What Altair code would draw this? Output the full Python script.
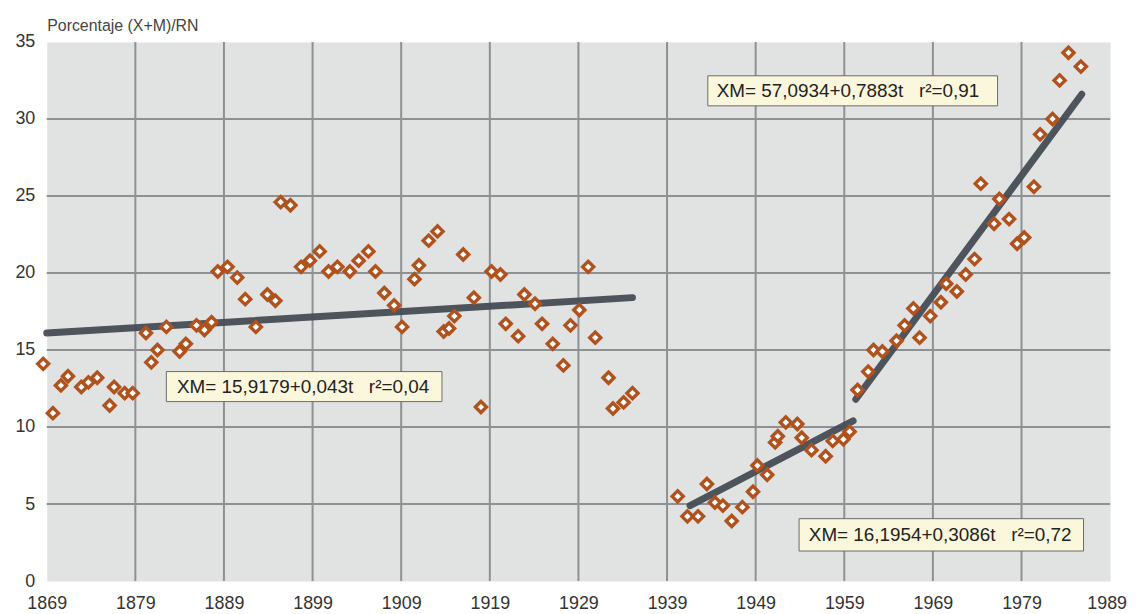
import altair as alt
import pandas as pd

# ---- data ----
left_years = [1868.6, 1869.7, 1870.6, 1871.4, 1872.9, 1873.7, 1874.7, 1876.1, 1876.6, 1877.8,
              1878.7, 1880.2, 1880.8, 1881.5, 1882.5, 1884.0, 1884.7, 1885.9, 1886.8, 1887.6,
              1888.3, 1889.4, 1890.5, 1891.4, 1892.6, 1893.9, 1894.8, 1895.4, 1896.5, 1897.7,
              1898.7, 1899.8, 1900.8, 1901.8, 1903.2, 1904.2, 1905.3, 1906.1, 1907.1, 1908.2,
              1909.1, 1910.5, 1911.0, 1912.1, 1913.1, 1913.8, 1914.4, 1915.0, 1916.0, 1917.2,
              1918.0, 1919.2, 1920.2, 1920.8, 1922.2, 1922.9, 1924.1, 1924.9, 1926.1, 1927.3,
              1928.1, 1929.1, 1930.1, 1930.9, 1932.4, 1932.9, 1934.1, 1935.1]
left_values = [14.1, 10.9, 12.7, 13.3, 12.6, 12.9, 13.2, 11.4, 12.6, 12.2,
               12.2, 16.1, 14.2, 15.0, 16.5, 14.9, 15.4, 16.6, 16.3, 16.8,
               20.1, 20.4, 19.7, 18.3, 16.5, 18.6, 18.2, 24.6, 24.4, 20.4,
               20.8, 21.4, 20.1, 20.4, 20.1, 20.8, 21.4, 20.1, 18.7, 17.9,
               16.5, 19.6, 20.5, 22.1, 22.7, 16.2, 16.4, 17.2, 21.2, 18.4,
               11.3, 20.1, 19.9, 16.7, 15.9, 18.6, 18.0, 16.7, 15.4, 14.0,
               16.6, 17.6, 20.4, 15.8, 13.2, 11.2, 11.6, 12.2]

mid_years = [1940.2, 1941.3, 1942.5, 1943.5, 1944.4, 1945.3, 1946.3, 1947.5, 1948.7, 1949.2,
             1950.3, 1951.2, 1951.5, 1952.4, 1953.7, 1954.2, 1955.3, 1956.9, 1957.7, 1958.9,
             1959.6]
mid_values = [5.5, 4.2, 4.2, 6.3, 5.1, 4.9, 3.9, 4.8, 5.8, 7.5,
              6.9, 9.0, 9.4, 10.3, 10.2, 9.3, 8.5, 8.1, 9.1, 9.2,
              9.7]

right_years = [1960.5, 1961.7, 1962.3, 1963.3, 1964.9, 1965.8, 1966.8, 1967.5, 1968.7, 1969.9,
               1970.5, 1971.7, 1972.7, 1973.7, 1974.4, 1975.9, 1976.5, 1977.6, 1978.5, 1979.3,
               1980.4, 1981.1, 1982.5, 1983.3, 1984.3, 1985.7]
right_values = [12.4, 13.6, 15.0, 14.9, 15.6, 16.6, 17.7, 15.8, 17.2, 18.1,
                19.3, 18.8, 19.9, 20.9, 25.8, 23.2, 24.8, 23.5, 21.9, 22.3,
                25.6, 29.0, 30.0, 32.5, 34.3, 33.4]

# fitted trend segments (end points)
fit_names = ["left", "left", "mid", "mid", "right", "right"]
fit_years = [1869.0, 1935.1, 1941.6, 1960.0, 1960.3, 1985.8]
fit_values = [16.1, 18.4, 4.9, 10.4, 11.8, 31.6]

# equation labels
NB = "\u00a0"
eq_texts = ["XM= 15,9179+0,043t" + NB * 3 + "r\u00b2=0,04",
            "XM= 57,0934+0,7883t" + NB * 3 + "r\u00b2=0,91",
            "XM= 16,1954+0,3086t" + NB * 3 + "r\u00b2=0,72"]
eq_x0 = [1882.5, 1943.6, 1953.9]
eq_x1 = [1913.6, 1976.3, 1986.0]
eq_y0 = [11.65, 30.85, 1.95]
eq_y1 = [13.6, 32.8, 4.05]
eq_tx = [1883.7, 1944.6, 1955.0]

x_ticks = [1869, 1879, 1889, 1899, 1909, 1919, 1929, 1939, 1949, 1959, 1969, 1979]
x_last = [1989]
y_ticks = [0, 5, 10, 15, 20, 25, 30, 35]
v_grid = [1879, 1889, 1899, 1909, 1919, 1929, 1939, 1949, 1959, 1969, 1979]
h_grid = [5, 10, 15, 20, 25, 30]

# ---- tables ----
pts = pd.DataFrame({"year": left_years + mid_years + right_years,
                    "value": left_values + mid_values + right_values})
fits = pd.DataFrame({"seg": fit_names, "year": fit_years, "value": fit_values})
eqs = pd.DataFrame({"text": eq_texts, "x0": eq_x0, "x1": eq_x1, "y0": eq_y0, "y1": eq_y1,
                    "tx": eq_tx, "ty": [(a + b) / 2 for a, b in zip(eq_y0, eq_y1)]})
vg = pd.DataFrame({"year": v_grid})
hg = pd.DataFrame({"value": h_grid})
lastlab = pd.DataFrame({"year": x_last, "value": [0], "label": [str(v) for v in x_last]})

FONT = "Liberation Sans"
xscale = alt.Scale(domain=[1869, 1989], nice=False, zero=False)
yscale = alt.Scale(domain=[0, 35], nice=False)

x_axis = alt.Axis(values=x_ticks, format="d", grid=False, domain=False, ticks=False,
                  labelFontSize=18, labelColor="#333333", labelPadding=14, labelFont=FONT,
                  labelOverlap=False, labelBound=False, labelFlush=False, title=None)
y_axis = alt.Axis(values=y_ticks, grid=False, domain=False, ticks=False,
                  labelFontSize=18, labelColor="#333333", labelPadding=12, labelFont=FONT,
                  title="Porcentaje (X+M)/RN", titleAngle=0, titleAlign="left",
                  titleBaseline="alphabetic", titleX=0, titleY=-12, titleFontSize=16,
                  titleFontWeight="normal", titleColor="#444444", titleFont=FONT)

vrules = alt.Chart(vg).mark_rule(color="#8e9193", strokeWidth=2).encode(
    x=alt.X("year:Q", scale=xscale, axis=x_axis))
hrules = alt.Chart(hg).mark_rule(color="#8e9193", strokeWidth=2).encode(
    y=alt.Y("value:Q", scale=yscale, axis=y_axis))

lines = alt.Chart(fits).mark_line(color="#464c54", strokeWidth=7, strokeCap="round",
                                  opacity=0.95).encode(
    x=alt.X("year:Q", scale=xscale),
    y=alt.Y("value:Q", scale=yscale),
    detail="seg:N")

points = alt.Chart(pts).mark_point(shape="diamond", filled=False, fill="white", fillOpacity=1,
                                   stroke="#b0521d", strokeWidth=3.4, size=125, opacity=1).encode(
    x=alt.X("year:Q", scale=xscale),
    y=alt.Y("value:Q", scale=yscale))

boxes = alt.Chart(eqs).mark_rect(fill="#fbf7dc", stroke="#6b6b66", strokeWidth=1).encode(
    x=alt.X("x0:Q", scale=xscale), x2="x1:Q",
    y=alt.Y("y0:Q", scale=yscale), y2="y1:Q")

texts = alt.Chart(eqs).mark_text(align="left", baseline="middle", font=FONT, fontSize=19,
                                 color="#222222").encode(
    x=alt.X("tx:Q", scale=xscale),
    y=alt.Y("ty:Q", scale=yscale),
    text="text:N")

last_label = alt.Chart(lastlab).mark_text(align="right", baseline="top", font=FONT, fontSize=18,
                                          color="#333333", dx=17, dy=14).encode(
    x=alt.X("year:Q", scale=xscale),
    y=alt.Y("value:Q", scale=yscale),
    text="label:N")

chart = alt.layer(vrules, hrules, lines, points, boxes, texts, last_label).properties(
    width=1071, height=543,
    autosize=alt.AutoSizeParams(type="none"),
    padding={"left": 39, "top": 32, "right": 18, "bottom": 30},
    background="white",
).configure_view(fill="#e1e2e2", stroke="transparent")

chart.save("out.html", embed_options={"renderer": "svg", "actions": False})
